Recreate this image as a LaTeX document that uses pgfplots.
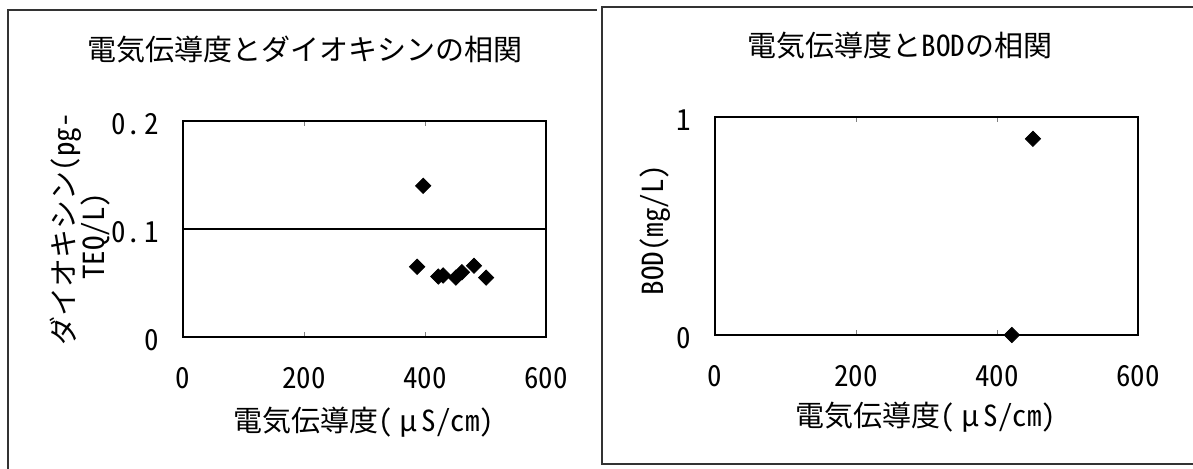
\documentclass[border=0pt]{standalone}
\usepackage{fontspec}
\usepackage{pgfplots}
\pgfplotsset{compat=1.18}
\setmainfont{Noto Sans CJK JP}
\newfontfamily\jp{Noto Sans CJK JP}
\newfontfamily\nr[RawFeature=+hwid]{Noto Sans CJK JP}
\newcommand\fs{\fontsize{14.5pt}{17pt}\selectfont}

\pgfplotsset{
  panel/.style={
    scale only axis,
    anchor=south west,
    axis line style={line width=1.3pt},
    tick align=inside,
    xtick={0,200,400,600},
    xticklabels={0,200,400,600},
    xmin=0, xmax=600,
    major tick length=2.5pt,
    ytick style={draw=none},
    xticklabel style={font=\nr\fs, anchor=base, yshift=-25.5pt, inner sep=0pt},
    yticklabel style={font=\nr\fs, anchor=east, xshift=-11.75pt, yshift=-1.5pt, inner sep=0pt},
    clip=false,
  },
  dots/.style={only marks, mark=square*, mark size=2.7pt,
    mark options={rotate=45, fill=black, draw=black, line width=0.4pt}},
}

\begin{document}
\begin{tikzpicture}
\useasboundingbox (0,0) rectangle (596.5pt,234pt);
% panel frames
\draw[line width=1pt, black!80] (4pt,-5pt) -- (4pt,229pt) -- (298.5pt,229pt);
\draw[line width=1pt, black!80] (301pt,2pt) rectangle (605pt,230.5pt);

% left: dioxin
\begin{axis}[panel,
  at={(91.5pt,65.5pt)}, width=181.5pt, height=108pt,
  ymin=0, ymax=0.2,
  ytick={0,0.1,0.2},
  yticklabels={0,0.\hspace{2pt}1,0.\hspace{2pt}2},
  ymajorgrids, grid style={black, line width=0.6pt},
]
\addplot[dots] coordinates {
  (397,0.140) (387,0.065) (422,0.056) (430,0.057) (451,0.055)
  (461,0.060) (481,0.066) (501,0.055)
};
\end{axis}
\node[anchor=base, font=\jp\fs] at (152.5pt,204pt) {電気伝導度とダイオキシンの相関};
\node[anchor=base, font=\jp\fs] at (182pt,18.5pt) {電気伝導度{\nr (}\hspace{3pt}μ\hspace{2pt}{\nr S/cm)}};
\node[anchor=base, rotate=90, font=\jp\fs] at (37pt,119.5pt) {ダイオキシン{\nr (pg-}};
\node[anchor=base, rotate=90, font=\nr\fs] at (52pt,116pt) {TEQ/L)};

% right: BOD
\begin{axis}[panel,
  at={(357.5pt,66.5pt)}, width=211.5pt, height=109pt,
  ymin=0, ymax=1,
  ytick={0,1},
  yticklabels={0,1},
]
\addplot[dots] coordinates {
  (421,0.0) (451,0.90)
};
\end{axis}
\node[anchor=base, font=\jp\fs] at (450pt,206pt) {電気伝導度と{\nr BOD}の相関};
\node[anchor=base, font=\jp\fs] at (463pt,21pt) {電気伝導度{\nr (}\hspace{3pt}μ\hspace{2pt}{\nr S/cm)}};
\node[anchor=base, rotate=90, font=\nr\fs] at (331.5pt,119pt) {BOD(mg/L)};
\end{tikzpicture}
\end{document}
